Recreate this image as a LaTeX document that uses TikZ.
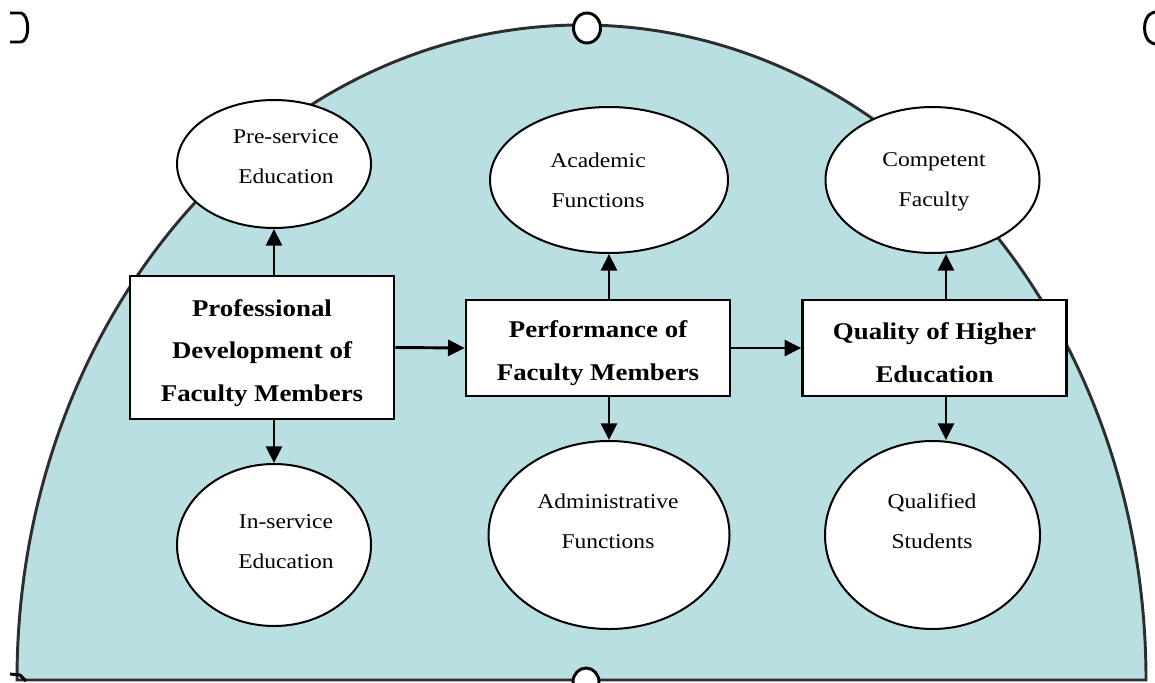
\documentclass[tikz,border=0pt]{standalone}
\usepackage{fontspec}
\setmainfont{Liberation Serif}[FakeStretch=1.12]
\usetikzlibrary{shapes.geometric,arrows.meta}

\definecolor{domefill}{RGB}{185,223,227}
\definecolor{domeline}{RGB}{45,45,45}

\tikzset{every picture/.style={line width=0.75pt}}
\tikzset{
  mainbox/.style={draw, fill=white, line width=2pt, minimum width=198pt, inner sep=0pt},
  boxtext/.style={align=center, inner sep=0pt, font=\fontsize{18}{32}\selectfont\bfseries},
  oval/.style={ellipse, draw, fill=white, line width=1.5pt, inner sep=0pt},
  ovaltext/.style={align=center, inner sep=0pt, font=\fontsize{15.75}{30}\selectfont},
  arr/.style={line width=2.2pt, -{Triangle[length=12.5pt,width=12pt]}},
  handle/.style={line width=2.2pt},
}

\begin{document}
\begin{tikzpicture}[x=0.75pt,y=0.75pt,yscale=-1,xscale=1]
\useasboundingbox (0,0) rectangle (1155,682);
\clip (0,0) rectangle (1155,682);

%Shape: Half Ellipse
\draw [draw=domeline, line width=2.2pt, fill=domefill] (17,680) arc [start angle=180, end angle=360, x radius=564.5, y radius=655] -- cycle ;

%Handles
\draw [handle] (10,13) -- (21,13) .. controls (30,15) and (30,41) .. (21,42) -- (10,42) ;
\draw [handle] (1155,12) -- (1152,13) .. controls (1142,17) and (1142,39) .. (1152,43) -- (1155,44) ;
\draw [handle, fill=white] (587,28) ellipse [x radius=13.5, y radius=15] ;
\draw [handle, fill=white] (586,682) ellipse [x radius=13, y radius=14] ;
\draw [handle] (10,674) -- (20,675) -- (26,681) ;

%Shape: Rectangles
\node [mainbox, minimum height=107.25pt] (prof) at (262,347.5) {};
\node [mainbox, minimum height=72pt] (perf) at (598,348) {};
\node [mainbox, minimum height=72pt] (qual) at (934.5,348) {};

%Shape: Ellipses
\node [oval, minimum width=145.5pt, minimum height=96pt] (pre) at (274,164) {};
\node [oval, minimum width=145.5pt, minimum height=121.5pt] (ins) at (274,545) {};
\node [oval, minimum width=178.5pt, minimum height=109.5pt] (acad) at (609,180) {};
\node [oval, minimum width=180.75pt, minimum height=141pt] (adm) at (609,535) {};
\node [oval, minimum width=160.5pt, minimum height=109.5pt] (comp) at (932.5,180) {};
\node [oval, minimum width=161.25pt, minimum height=141pt] (qst) at (932.5,535) {};

% Text Node
\node [boxtext] (proftxt) at (262,353) {Professional\\Development of\\Faculty Members};
% Text Node
\node [boxtext] (perftxt) at (598,353) {Performance of\\Faculty Members};
% Text Node
\node [boxtext] (qualtxt) at (934.5,353) {Quality of Higher\\Education};
% Text Node
\node [ovaltext] (pretxt) at (286,157) {Pre-service\\Education};
% Text Node
\node [ovaltext] (instxt) at (286,542) {In-service\\Education};
% Text Node
\node [ovaltext] (acadtxt) at (598,180) {Academic\\Functions};
% Text Node
\node [ovaltext] (admtxt) at (608,521.5) {Administrative\\Functions};
% Text Node
\node [ovaltext] (comptxt) at (934,182) {Competent\\Faculty};
% Text Node
\node [ovaltext] (qsttxt) at (932,521.5) {Qualified\\Students};

%Straight Lines
\draw [arr] (prof.east) -- (perf.west) ;
\draw [arr] (perf.east) -- (qual.west) ;
\draw [arr] (pre.south |- prof.north) -- (pre.south) ;
\draw [arr] (ins.north |- prof.south) -- (ins.north) ;
\draw [arr] (acad.south |- perf.north) -- (acad.south) ;
\draw [arr] (adm.north |- perf.south) -- (adm.north) ;
\draw [arr] ([xshift=8.6pt]qual.north) -- ([xshift=8.6pt]qual.north |- comp.south) ;
\draw [arr] ([xshift=8.6pt]qual.south) -- ([xshift=8.6pt]qual.south |- qst.north) ;

\end{tikzpicture}
\end{document}
